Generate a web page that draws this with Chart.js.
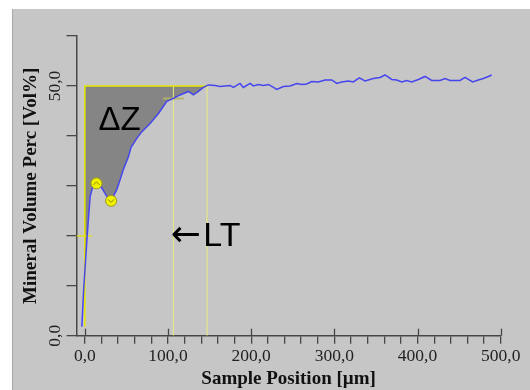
<!DOCTYPE html>
<html><head><meta charset="utf-8">
<script src="https://cdn.jsdelivr.net/npm/chart.js@4.4.1/dist/chart.umd.min.js"></script>
<style>html,body{margin:0;padding:0;background:#fff;overflow:hidden}canvas{display:block}</style>
</head><body>
<canvas id="c" width="530" height="390"></canvas>
<script>
// ---- data ----
const positions = [-3.6,-1.4,2.8,6.4,10.3,14.0,20.4,26.4,31.6,38.5,42.4,46.4,52.4,55.6,62.5,68.9,78.5,88.5,98.6,106.5,114.5,124.5,130.5,136.5,142.5,148.6,156.6,162.6,168.6,174.6,178.6,186.6,190.6,198.7,202.6,208.7,214.7,220.7,224.8,230.8,238.7,246.8,254.8,260.8,266.8,272.8,280.8,288.8,296.9,302.9,308.9,316.8,322.8,330.0,336.9,346.9,354.9,360.9,369.0,375.0,381.0,387.0,393.0,401.0,409.0,417.1,427.0,433.1,439.1,451.1,457.1,461.1,466.3,473.1,479.1,485.1,489.2];
const mineralVolume = [1.8,9.2,19.9,27.9,30.3,30.5,29.6,27.9,27.0,29.3,31.2,33.3,35.8,37.7,39.5,40.9,42.5,44.5,46.9,47.5,48.2,48.9,48.2,48.9,49.7,50.2,50.1,49.9,50.0,50.1,49.7,50.5,49.7,50.5,50.0,50.3,50.1,50.3,49.9,49.3,49.9,50.0,50.5,50.3,50.4,50.9,50.8,51.2,51.2,50.5,50.8,51.0,50.8,51.6,51.0,51.5,51.7,52.2,51.3,51.2,50.8,51.1,50.8,51.3,51.9,51.1,51.1,51.5,51.1,51.1,51.7,51.3,50.8,51.2,51.5,51.9,52.2];
const markerPositions = [14.0, 31.6];
const markerValues = [30.5, 27.0];
const markerKinds = ['max', 'min'];
const plateauLevel = 50;
const deltaZEnd = 147;
const ltPosition = 106.5;
const ltLevel = 47.5;
const yMarkLevel = 20;
const xTickValues = [0,20,40,60,80,100,120,140,160,180,200,220,240,260,280,300,320,340,360,380,400,420,440,460,480,500];
const xLabelValues = [0,100,200,300,400,500];
const yTickValues = [0,10,20,30,40,50,60];
const yLabelValues = [0,50];

const fmt = v => v.toFixed(1).replace('.', ',');
const series = positions.map((x, i) => ({x, y: mineralVolume[i]}));
function valueAt(x) {
  for (let i = 1; i < series.length; i++) {
    if (series[i].x >= x) {
      const a = series[i-1], b = series[i];
      return a.y + (b.y - a.y) * (x - a.x) / (b.x - a.x);
    }
  }
  return series[series.length-1].y;
}
const fillPts = [{x:0, y:valueAt(0)}]
  .concat(series.filter(p => p.x > 0 && p.x < deltaZEnd))
  .concat([{x:deltaZEnd, y:plateauLevel}]);

const AXIS = '#474747';
const bgPlugin = {
  id: 'bg',
  beforeDraw(chart) {
    const ctx = chart.ctx;
    ctx.save();
    ctx.fillStyle = '#ffffff';
    ctx.fillRect(0, 0, 530, 390);
    ctx.fillStyle = '#c6c6c6';
    ctx.fillRect(12, 9, 518, 381);
    ctx.strokeStyle = '#a9a9a9';
    ctx.lineWidth = 1;
    ctx.beginPath(); ctx.moveTo(12.5, 9); ctx.lineTo(12.5, 390); ctx.stroke();
    ctx.restore();
  },
  afterDraw(chart) {
    const ctx = chart.ctx, xs = chart.scales.x, ys = chart.scales.y;
    ctx.save();
    // upward part of major x ticks
    ctx.strokeStyle = AXIS; ctx.lineWidth = 1.3;
    const b = chart.chartArea.bottom;
    xLabelValues.forEach(v => {
      const px = Math.round(xs.getPixelForValue(v)) + 0.5;
      ctx.beginPath(); ctx.moveTo(px, b - 7); ctx.lineTo(px, b); ctx.stroke();
    });
    // small glyphs inside the extremum markers
    ctx.strokeStyle = '#8a8a10'; ctx.lineWidth = 1;
    markerPositions.forEach((v, i) => {
      const px = xs.getPixelForValue(v), py = ys.getPixelForValue(markerValues[i]);
      const d = markerKinds[i] === 'max' ? -1 : 1;
      ctx.beginPath();
      ctx.moveTo(px - 3, py - d * 1.5);
      ctx.lineTo(px, py + d * 1.5);
      ctx.lineTo(px + 3, py - d * 1.5);
      ctx.stroke();
    });
    // annotations
    ctx.fillStyle = '#000';
    ctx.textAlign = 'left'; ctx.textBaseline = 'alphabetic';
    ctx.font = '33px "Liberation Sans", Arial, sans-serif';
    ctx.fillText('ΔZ', xs.getPixelForValue(16.3), ys.getPixelForValue(41.1));
    const ax = xs.getPixelForValue(104.6), ay = ys.getPixelForValue(17.9);
    ctx.font = '36px "DejaVu Sans", sans-serif';
    ctx.fillText('←', ax - 1, ay - 0.5);
    ctx.font = '34px "Liberation Sans", Arial, sans-serif';
    ctx.fillText('LT', xs.getPixelForValue(142.4), ay);
    ctx.restore();
  }
};

new Chart(document.getElementById('c'), {
  type: 'line',
  data: {
    datasets: [
      { label: 'markers', data: markerPositions.map((x,i)=>({x, y: markerValues[i]})), showLine: false,
        pointRadius: 5.5, pointBackgroundColor: '#f2f200', pointBorderColor: '#9a9a1a', pointBorderWidth: 1, order: 0 },
      { label: 'profile', data: series, borderColor: '#4646ee', borderWidth: 1.5, pointRadius: 0, tension: 0, fill: false, order: 1 },
      { label: 'ltMark', data: [{x: ltPosition - 12.5, y: ltLevel}, {x: ltPosition + 12.5, y: ltLevel}], borderColor: 'rgba(180,180,100,0.9)', borderWidth: 2, pointRadius: 0, order: 2 },
      { label: 'boundary', data: [{x:0, y: mineralVolume[0]}, {x:0, y: plateauLevel}, {x: deltaZEnd, y: plateauLevel}], borderColor: '#e6e600', borderWidth: 1.5, pointRadius: 0, order: 3 },
      { label: 'endLine', data: [{x: deltaZEnd, y: 0}, {x: deltaZEnd, y: plateauLevel}], borderColor: '#ecec7a', borderWidth: 1, pointRadius: 0, order: 4 },
      { label: 'ltLine', data: [{x: ltPosition, y: 0}, {x: ltPosition, y: plateauLevel}], borderColor: '#ecec7a', borderWidth: 1, pointRadius: 0, order: 5 },
      { label: 'yMark', data: [{x: -10, y: yMarkLevel}, {x: 8.4, y: yMarkLevel}], borderColor: '#e6e600', borderWidth: 1.2, pointRadius: 0, order: 6 },
      { label: 'deltaZ', data: fillPts, borderWidth: 0, borderColor: 'rgba(0,0,0,0)', backgroundColor: '#858585', pointRadius: 0, tension: 0, fill: {value: plateauLevel}, order: 7 }
    ]
  },
  options: {
    responsive: false, animation: false, devicePixelRatio: 1,
    layout: { padding: { left: 0, top: 36, right: 29.3, bottom: 0 } },
    plugins: { legend: { display: false }, tooltip: { enabled: false } },
    scales: {
      x: {
        type: 'linear', min: -10, max: 500,
        afterBuildTicks: s => { s.ticks = xTickValues.map(v => ({value: v})); },
        afterFit: s => { s.height = 54.3; },
        grid: { drawOnChartArea: false, drawTicks: true, tickLength: 8, color: AXIS, tickColor: AXIS, lineWidth: 1.3 },
        border: { display: true, color: AXIS, width: 1.5 },
        ticks: { autoSkip: false, maxRotation: 0, minRotation: 0, padding: 2, color: '#222',
          font: { family: '"Liberation Serif", "Times New Roman", serif', size: 17.5 },
          callback: v => xLabelValues.includes(v) ? fmt(v) : '' },
        title: { display: true, text: 'Sample Position [µm]', color: '#111', padding: { top: 0, bottom: 0 },
          font: { family: '"Liberation Serif", "Times New Roman", serif', size: 19, weight: 'bold' } }
      },
      y: {
        type: 'linear', min: 0, max: 60,
        afterBuildTicks: s => { s.ticks = yTickValues.map(v => ({value: v})); },
        afterFit: s => { s.width = 76.5; },
        grid: { drawOnChartArea: false, drawTicks: true, tickLength: 10, color: AXIS, tickColor: AXIS, lineWidth: 1.3 },
        border: { display: true, color: AXIS, width: 1.5 },
        ticks: { autoSkip: false, minRotation: 90, maxRotation: 90, crossAlign: 'center', padding: -4, color: '#222',
          font: { family: '"Liberation Serif", "Times New Roman", serif', size: 17.5 },
          callback: v => yLabelValues.includes(v) ? fmt(v) : '' },
        title: { display: true, text: 'Mineral Volume Perc [Vol%]', color: '#111', padding: { top: 20, bottom: 0 },
          font: { family: '"Liberation Serif", "Times New Roman", serif', size: 19, weight: 'bold' } }
      }
    }
  },
  plugins: [bgPlugin]
});
</script>
</body></html>
